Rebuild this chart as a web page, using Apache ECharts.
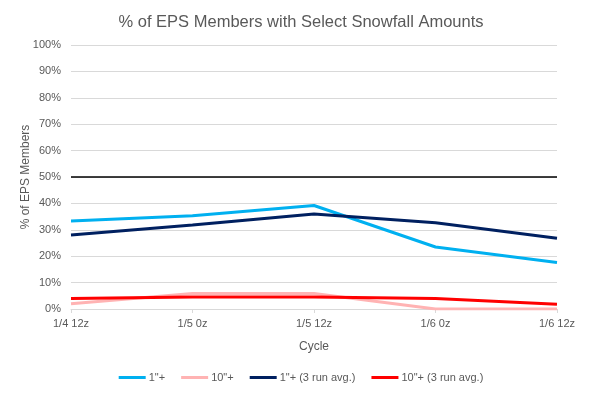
<!DOCTYPE html>
<html><head><meta charset="utf-8">
<script src="https://cdn.jsdelivr.net/npm/echarts@6/dist/echarts.min.js"></script>
<style>html,body{margin:0;padding:0;background:#fff}#c{width:602px;height:395px}</style>
</head><body><div id="c"></div>
<script>
var categories = ['1/4 12z', '1/5 0z', '1/5 12z', '1/6 0z', '1/6 12z'];
var snow1 = [33.3, 35.3, 39.2, 23.5, 17.6];
var snow10 = [2.0, 5.9, 5.9, 0, 0];
var snow1Avg = [28.0, 31.8, 36.0, 32.7, 26.8];
var snow10Avg = [4.0, 4.5, 4.5, 4.0, 1.8];
var yTicks = [0, 10, 20, 30, 40, 50, 60, 70, 80, 90, 100];
var refLine = 50;

var font = 'Liberation Sans';
var grey = '#595959';
function mk(name, data, color) {
  return {name: name, type: 'line', data: data, symbol: 'none', smooth: false,
    lineStyle: {width: 3, color: color}, itemStyle: {color: color}};
}
var s = [mk('1"+', snow1, '#00b0f0'), mk('10"+', snow10, '#ffb3b3'),
  mk('1"+ (3 run avg.)', snow1Avg, '#002060'), mk('10"+ (3 run avg.)', snow10Avg, '#ff0000')];
s[0].markLine = {silent: true, symbol: 'none', label: {show: false},
  lineStyle: {color: '#000', width: 1.5, type: 'solid'}, data: [{yAxis: refLine}]};
s[0].z = 3; s[1].z = 2; s[2].z = 3; s[3].z = 4;
var chart = echarts.init(document.getElementById('c'), null, {renderer: 'canvas'});
chart.setOption({
  animation: false,
  textStyle: {fontFamily: font},
  title: {text: '% of EPS Members with Select Snowfall Amounts', left: 'center', top: 9,
    textStyle: {fontFamily: font, fontSize: 16.5, fontWeight: 'normal', color: grey}},
  grid: {left: 71, right: 45, top: 45, bottom: 86},
  legend: {bottom: 7, left: 'center', itemWidth: 27, itemHeight: 3, itemGap: 16,
    icon: 'rect', textStyle: {fontFamily: font, fontSize: 11, color: grey, padding: [0, 0, 0, -2]},
    data: s.map(function(x){return x.name;})},
  xAxis: {type: 'category', data: categories, boundaryGap: false,
    name: 'Cycle', nameLocation: 'middle', nameGap: 32, nameMoveOverlap: false,
    nameTextStyle: {fontFamily: font, fontSize: 12, color: grey},
    axisLine: {lineStyle: {color: '#d9d9d9'}},
    axisTick: {show: true, alignWithLabel: true, length: 4, lineStyle: {color: '#d9d9d9'}},
    axisLabel: {color: grey, fontSize: 11, fontFamily: font, margin: 9}},
  yAxis: {type: 'value', min: yTicks[0], max: yTicks[yTicks.length - 1], interval: 10,
    name: '% of EPS Members', nameLocation: 'middle', nameGap: 39, nameRotate: 90, nameMoveOverlap: false,
    nameTextStyle: {fontFamily: font, fontSize: 12, color: grey},
    axisLine: {show: false}, axisTick: {show: false},
    axisLabel: {color: grey, fontSize: 11, fontFamily: font, formatter: '{value}%', margin: 10},
    splitLine: {lineStyle: {color: '#d9d9d9', width: 1}}},
  series: s
});
</script></body></html>
